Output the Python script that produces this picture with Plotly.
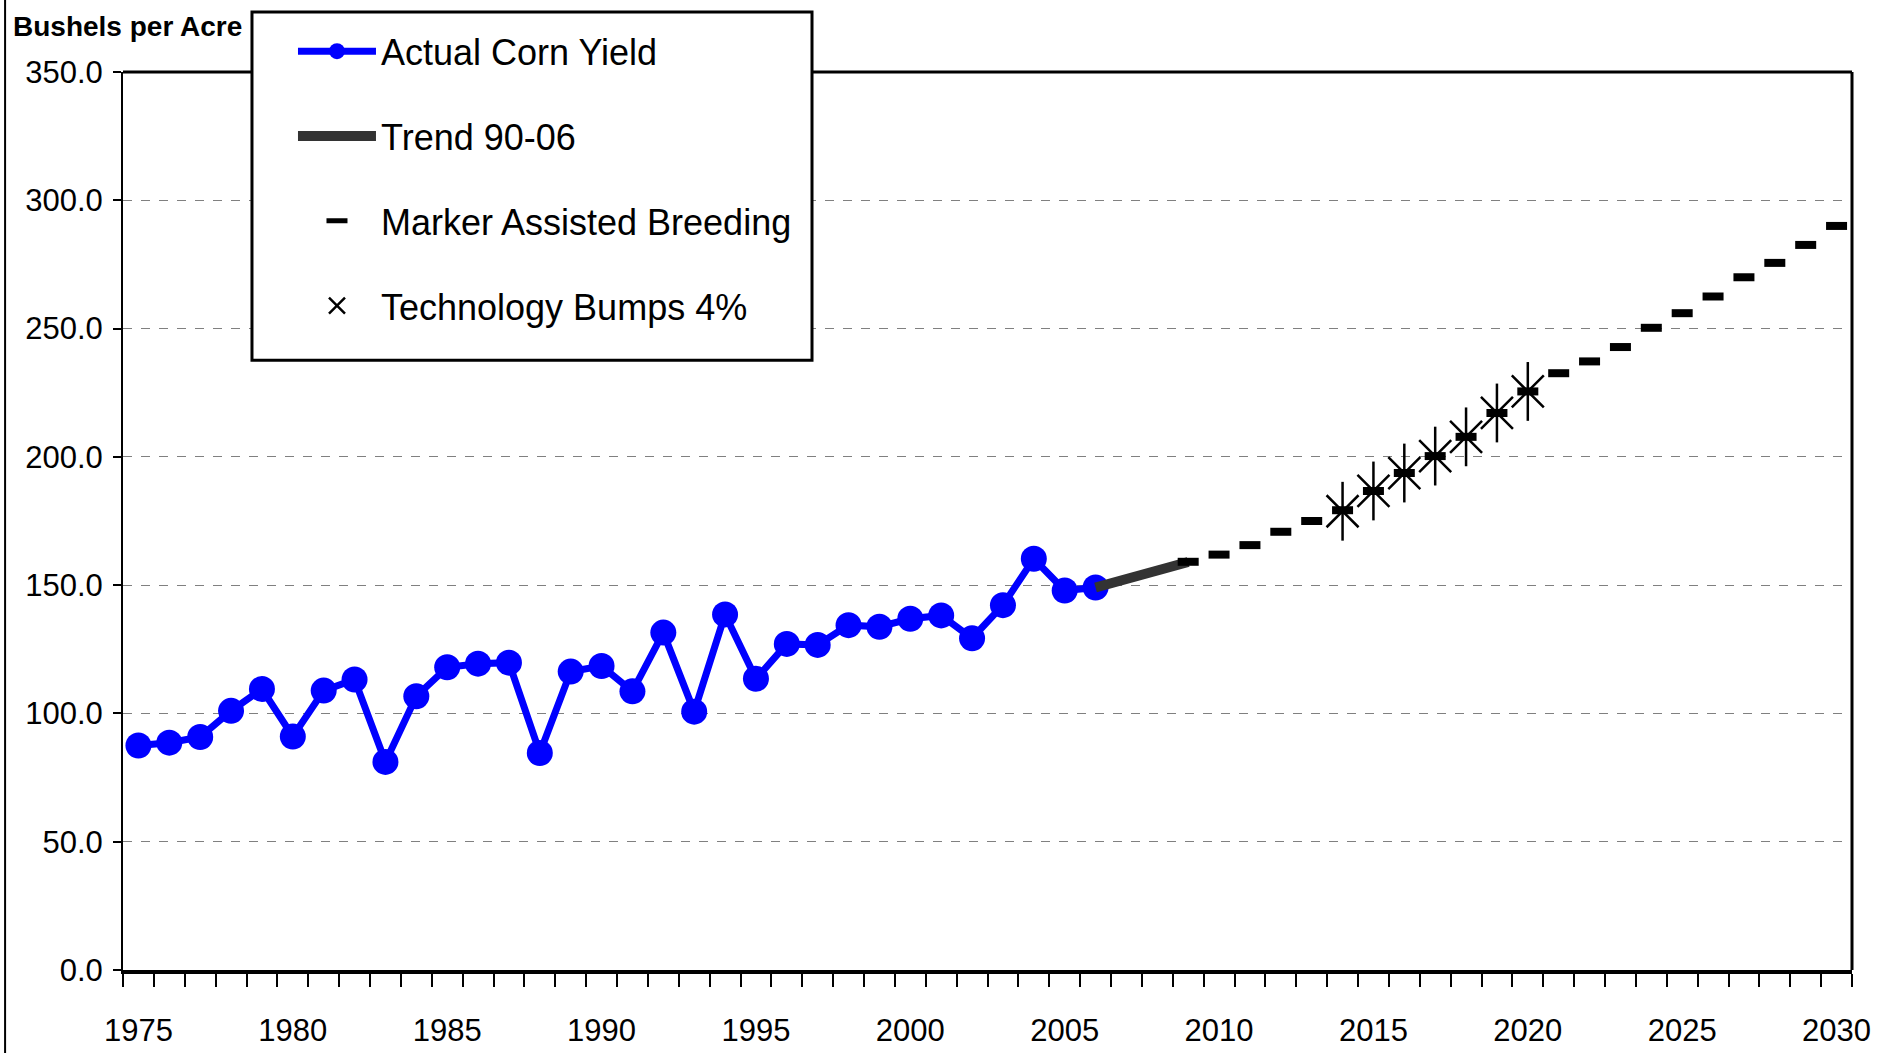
import plotly.graph_objects as go

# actual US corn yield, bushels per acre
years_actual = list(range(1975, 2007))
yield_actual = [87.5, 88.6, 90.8, 101.0, 109.5, 91.0, 108.9, 113.2, 81.1, 106.7,
                118.0, 119.4, 119.8, 84.6, 116.3, 118.5, 108.6, 131.5, 100.7, 138.6,
                113.5, 127.1, 126.7, 134.4, 133.8, 136.9, 138.2, 129.3, 142.2, 160.3,
                147.9, 149.1]

years_trend = [2006, 2007, 2008, 2009]
yield_trend = [149.1, 152.4, 155.7, 159.0]

years_mab = list(range(2009, 2031))
yield_mab = [159.1, 161.9, 165.6, 170.8, 175.0, 179.2, 186.7, 193.7, 200.3, 207.8,
             217.1, 225.5, 232.6, 237.2, 242.8, 250.3, 256.0, 262.5, 270.0, 275.6,
             282.6, 290.0]

years_bump = list(range(2014, 2021))
yield_bump = [178.8, 186.7, 193.7, 200.3, 207.8, 217.1, 225.5]

FONT = "Liberation Sans, Arial, sans-serif"

fig = go.Figure()

fig.add_trace(go.Scatter(
    x=years_actual, y=yield_actual,
    mode='lines+markers',
    name='Actual Corn Yield',
    line=dict(color='#0000ff', width=7),
    marker=dict(color='#0000ff', size=26, symbol='circle'),
    legendgroup='a'
))

fig.add_trace(go.Scatter(
    x=years_trend, y=yield_trend,
    mode='lines',
    name='Trend 90-06',
    line=dict(color='#333333', width=10),
    legendgroup='b'
))

fig.add_trace(go.Scatter(
    x=years_mab, y=yield_mab,
    mode='markers',
    name='Marker Assisted Breeding',
    marker=dict(symbol='line-ew', size=15, line=dict(color='black', width=8)),
    legendgroup='c'
))

# star = an X plus a vertical stroke
fig.add_trace(go.Scatter(
    x=years_bump, y=yield_bump,
    mode='markers',
    name='Technology Bumps 4%',
    marker=dict(symbol='x-thin', size=32, line=dict(color='black', width=2.5)),
    legendgroup='d'
))
fig.add_trace(go.Scatter(
    x=years_bump, y=yield_bump,
    mode='markers',
    showlegend=False,
    marker=dict(symbol='line-ns', size=42, line=dict(color='black', width=2.5)),
    legendgroup='d'
))

fig.update_layout(
    width=1881, height=1053,
    margin=dict(l=123, r=29, t=72, b=83),
    paper_bgcolor='white', plot_bgcolor='white',
    font=dict(family=FONT, color='black', size=30),
    xaxis=dict(
        range=[1974.5, 2030.5],
        tickvals=[1975, 1980, 1985, 1990, 1995, 2000, 2005, 2010, 2015, 2020, 2025, 2030],
        ticks='', showgrid=False, zeroline=False,
        showline=True, linecolor='black', linewidth=4,
        ticklabelstandoff=30,
        tickfont=dict(size=31),
        automargin=False,
        minor=dict(ticks='outside', tick0=1974.5, dtick=1, ticklen=13,
                   tickwidth=2, tickcolor='black', showgrid=False),
    ),
    yaxis=dict(
        range=[0, 350],
        tickvals=[0, 50, 100, 150, 200, 250, 300, 350],
        tickformat='.1f',
        ticks='outside', ticklen=8, tickwidth=2, tickcolor='black',
        showgrid=True, gridcolor='#808080', gridwidth=1, griddash='dash',
        zeroline=False,
        showline=True, linecolor='black', linewidth=2,
        ticklabelstandoff=4,
        tickfont=dict(size=31),
        automargin=False,
    ),
    legend=dict(
        x=0.0746, y=1.0565, xanchor='left', yanchor='top',
        bgcolor='rgba(0,0,0,0)', borderwidth=0,
        font=dict(size=36),
        indentation=41, itemwidth=78,
        traceorder='grouped', tracegroupgap=35,
    ),
    annotations=[dict(
        text='<b>Bushels per Acre</b>', xref='paper', yref='paper',
        x=-0.065, y=1.051, xanchor='left', yanchor='middle',
        showarrow=False, font=dict(size=28),
    )],
    shapes=[
        dict(type='line', xref='paper', yref='paper', x0=0, x1=1, y0=1, y1=1,
             line=dict(color='black', width=3)),
        dict(type='line', xref='paper', yref='paper', x0=1, x1=1, y0=0, y1=1,
             line=dict(color='black', width=3)),
        dict(type='line', xref='paper', yref='paper', x0=-0.0682, x1=-0.0682, y0=-0.2, y1=1.2,
             line=dict(color='black', width=2)),
        # legend box
        dict(type='rect', xref='paper', yref='paper', x0=0.0746, x1=0.3985, y0=0.679, y1=1.0668,
             fillcolor='white', line=dict(color='black', width=3), layer='above'),
    ],
)

fig.write_html("out.html", config={'displayModeBar': False},
               post_script="document.body.style.margin='0';")
